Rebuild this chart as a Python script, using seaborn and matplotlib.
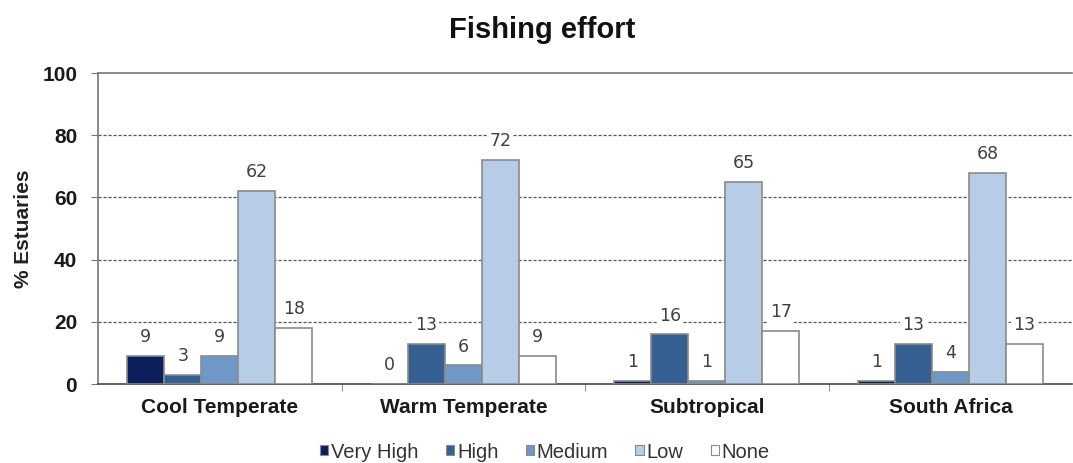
import matplotlib
matplotlib.use("Agg")
import matplotlib.pyplot as plt
import seaborn as sns
import pandas as pd
import numpy as np
from matplotlib.ticker import FixedLocator

regions = ["Cool Temperate", "Warm Temperate", "Subtropical", "South Africa"]
levels = ["Very High", "High", "Medium", "Low", "None"]
very_high = [9, 0, 1, 1]
high = [3, 13, 16, 13]
medium = [9, 6, 1, 4]
low = [62, 72, 65, 68]
none = [18, 9, 17, 13]
colors = ["#0b1f5c", "#365f92", "#6f98c6", "#b7cce6", "#ffffff"]

series = [very_high, high, medium, low, none]
df = pd.DataFrame({
    "Region": np.repeat([regions], len(levels), axis=0).ravel(),
    "Effort": np.repeat(levels, len(regions)),
    "Pct": np.concatenate(series),
})

sns.set_style("white")
plt.rcParams["font.family"] = ["Liberation Sans", "DejaVu Sans"]

fig = plt.figure(figsize=(10.73, 4.63), dpi=100)
ax = fig.add_axes([0.0913, 0.1706, 0.908, 0.6717])

sns.barplot(data=df, x="Region", y="Pct", hue="Effort", order=regions,
            hue_order=levels, palette=colors, saturation=1, width=0.76,
            edgecolor="#8a8a8a", linewidth=1.2, legend=False, ax=ax, zorder=3)

ax.set_ylim(0, 100)
ax.set_xlim(-0.5, len(regions) - 0.5)
ax.set_yticks(range(0, 101, 20))
for y in range(20, 100, 20):
    ax.axhline(y, color="#555555", linestyle=(0, (2.5, 1.5)), linewidth=0.9, zorder=1)

for container in ax.containers:
    ax.bar_label(container, fmt="%d", padding=7, fontsize=12.5, color="#404040",
                 family="DejaVu Sans", zorder=4,
                 bbox=dict(facecolor="white", edgecolor="none", pad=1.5))

fig.text(0.505, 1 - 30 / 463, "Fishing effort", fontsize=21, fontweight="bold",
         ha="center", va="center", color="#111111")
ax.set_ylabel("% Estuaries", fontsize=15, fontweight="bold", color="#222222")
ax.yaxis.set_label_coords(-0.067, 0.5)
ax.set_xlabel("")
for lbl in ax.get_xticklabels() + ax.get_yticklabels():
    lbl.set_fontweight("bold")
    lbl.set_fontsize(15)
    lbl.set_color("#1a1a1a")

ax.tick_params(axis="x", length=0, pad=10)
ax.tick_params(axis="y", length=5, color="#777777", left=True, pad=10)
ax.xaxis.set_minor_locator(FixedLocator([0.5, 1.5, 2.5]))
ax.tick_params(axis="x", which="minor", bottom=True, length=5, color="#777777")

for side in ["left", "top", "bottom"]:
    ax.spines[side].set_color("#777777")
    ax.spines[side].set_linewidth(1.2)
ax.spines["bottom"].set_color("#444444")
ax.spines["right"].set_visible(False)

handles = [plt.Rectangle((0, 0), 1, 1, facecolor=c, edgecolor="#8a8a8a", linewidth=0.8)
           for c in colors]
fig.legend(handles, levels, loc="center", bbox_to_anchor=(0.508, 1 - 452 / 463),
           ncol=5, frameon=False, fontsize=14.5, handlelength=0.4, handleheight=0.4,
           handletextpad=0.15, columnspacing=1.35, labelcolor="#333333")

fig.savefig("out.png", dpi=100)
